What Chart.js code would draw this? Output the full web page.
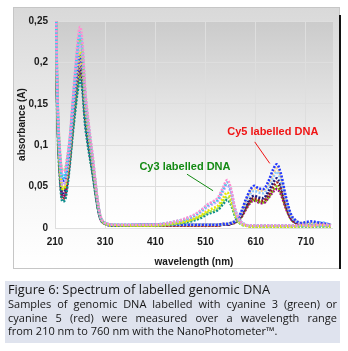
<!DOCTYPE html>
<html>
<head>
<meta charset="utf-8">
<script src="https://cdn.jsdelivr.net/npm/chart.js@4.4.1/dist/chart.umd.min.js"></script>
<style>
  html, body { margin: 0; padding: 0; background: #fff; width: 348px; height: 351px; overflow: hidden; }
  #box { position: absolute; left: 14px; top: 8px; width: 325px; height: 260px;
         background: linear-gradient(#d9d9d9, #f4f4f4 60%, #ffffff); outline: 1px solid #c6c6c6; }
  #shadow { position: absolute; left: 339px; top: 15px; width: 2px; height: 254px; background: #111; }
  #cap { position: absolute; left: 5px; top: 281px; width: 329px; height: 62px; padding: 0 3px;
         background: #dfe3ee; color: #161616; font-family: "Open Sans", sans-serif; }
  #cap .t { font-size: 12.8px; line-height: 15px; margin-top: 1px; }
  #cap .j { font-size: 11px; line-height: 13.5px; text-align: justify; text-align-last: justify; }
  #cap .l { font-size: 11px; line-height: 13.5px; }
</style>
</head>
<body>
<div id="box"><canvas id="chart" width="325" height="260"></canvas></div>
<div id="shadow"></div>
<div id="cap">
  <div class="t">Figure 6: Spectrum of labelled genomic DNA</div>
  <div class="j">Samples of genomic DNA labelled with cyanine 3 (green) or</div>
  <div class="j">cyanine 5 (red) were measured over a wavelength range</div>
  <div class="l">from 210 nm to 760 nm with the NanoPhotometer™.</div>
</div>
<script>
// wavelengths (nm) the spectra were read at
const wavelengths = [210, 215, 220, 225, 230, 235, 240, 245, 250, 255, 260, 265, 270, 275, 280, 285, 290, 295, 300, 310, 330,
  400, 450, 480, 500, 515, 525, 535, 545, 553, 560, 570, 580, 590, 600, 607, 615, 625, 635, 645, 652, 660, 670, 680, 690, 700, 720, 740, 760];

const xTicks = [210, 310, 410, 510, 610, 710];
const yTicks = [0, 0.05, 0.1, 0.15, 0.2, 0.25];

// Cy3 labelled samples
const cy3Pink = [0.34, 0.16, 0.092, 0.068, 0.07, 0.088, 0.113, 0.152, 0.19, 0.224, 0.243, 0.222, 0.17, 0.138, 0.112, 0.088, 0.06, 0.034, 0.016, 0.006, 0.004,
  0.004, 0.008, 0.014, 0.021, 0.029, 0.032, 0.037, 0.049, 0.058, 0.049, 0.021, 0.008, 0.004, 0.003, 0.003, 0.003, 0.003, 0.003, 0.003, 0.003, 0.003, 0.003, 0.003, 0.003, 0.004, 0.003, 0.004, 0.003];
const cy3Cyan = [0.33, 0.155, 0.085, 0.06, 0.063, 0.082, 0.109, 0.147, 0.184, 0.217, 0.236, 0.215, 0.165, 0.134, 0.109, 0.085, 0.058, 0.033, 0.015, 0.006, 0.004,
  0.004, 0.008, 0.013, 0.02, 0.028, 0.031, 0.035, 0.047, 0.055, 0.047, 0.02, 0.008, 0.004, 0.003, 0.003, 0.003, 0.003, 0.003, 0.003, 0.003, 0.003, 0.003, 0.003, 0.003, 0.003, 0.004, 0.003, 0.003];
const cy3Lavender = [0.32, 0.148, 0.078, 0.052, 0.055, 0.074, 0.102, 0.139, 0.174, 0.205, 0.222, 0.203, 0.155, 0.126, 0.102, 0.08, 0.055, 0.031, 0.015, 0.006, 0.004,
  0.004, 0.007, 0.012, 0.019, 0.026, 0.029, 0.033, 0.044, 0.052, 0.044, 0.019, 0.007, 0.004, 0.003, 0.003, 0.003, 0.003, 0.003, 0.003, 0.003, 0.003, 0.003, 0.003, 0.003, 0.003, 0.003, 0.003, 0.004];
const cy3Yellow = [0.31, 0.144, 0.074, 0.047, 0.05, 0.069, 0.098, 0.134, 0.167, 0.197, 0.214, 0.195, 0.15, 0.121, 0.099, 0.077, 0.053, 0.03, 0.014, 0.005, 0.003,
  0.003, 0.006, 0.01, 0.015, 0.021, 0.024, 0.027, 0.036, 0.043, 0.036, 0.016, 0.006, 0.003, 0.002, 0.002, 0.002, 0.002, 0.002, 0.002, 0.002, 0.002, 0.002, 0.002, 0.002, 0.003, 0.002, 0.003, 0.002];
const cy3Lime = [0.33, 0.158, 0.09, 0.07, 0.071, 0.086, 0.108, 0.143, 0.178, 0.21, 0.228, 0.208, 0.16, 0.13, 0.105, 0.083, 0.056, 0.032, 0.015, 0.006, 0.004,
  0.003, 0.005, 0.009, 0.014, 0.019, 0.021, 0.024, 0.032, 0.038, 0.032, 0.014, 0.005, 0.003, 0.002, 0.002, 0.002, 0.002, 0.002, 0.002, 0.002, 0.002, 0.002, 0.002, 0.002, 0.002, 0.003, 0.002, 0.002];
const cy3Teal = [0.28, 0.125, 0.058, 0.032, 0.034, 0.052, 0.08, 0.112, 0.14, 0.165, 0.179, 0.164, 0.125, 0.102, 0.083, 0.065, 0.044, 0.025, 0.012, 0.005, 0.003,
  0.003, 0.005, 0.008, 0.012, 0.017, 0.019, 0.022, 0.029, 0.034, 0.029, 0.013, 0.005, 0.003, 0.002, 0.002, 0.002, 0.002, 0.002, 0.002, 0.002, 0.002, 0.002, 0.002, 0.002, 0.002, 0.002, 0.002, 0.002];

// Cy5 labelled samples
const cy5Blue = [0.31, 0.147, 0.08, 0.057, 0.059, 0.075, 0.098, 0.131, 0.163, 0.192, 0.208, 0.19, 0.146, 0.118, 0.096, 0.075, 0.051, 0.029, 0.014, 0.005, 0.003,
  0.004, 0.004, 0.004, 0.004, 0.004, 0.004, 0.004, 0.005, 0.005, 0.006, 0.009, 0.018, 0.034, 0.047, 0.051, 0.048, 0.047, 0.056, 0.071, 0.077, 0.066, 0.038, 0.017, 0.009, 0.006, 0.008, 0.006, 0.004];
const cy5Peach = [0.3, 0.142, 0.075, 0.05, 0.052, 0.069, 0.093, 0.125, 0.157, 0.184, 0.2, 0.183, 0.14, 0.114, 0.092, 0.072, 0.049, 0.028, 0.013, 0.005, 0.003,
  0.004, 0.004, 0.004, 0.004, 0.004, 0.004, 0.004, 0.005, 0.005, 0.006, 0.009, 0.017, 0.032, 0.045, 0.048, 0.046, 0.045, 0.053, 0.066, 0.072, 0.062, 0.036, 0.016, 0.009, 0.006, 0.006, 0.005, 0.004];
const cy5SkyBlue = [0.33, 0.157, 0.088, 0.064, 0.066, 0.084, 0.109, 0.146, 0.182, 0.214, 0.232, 0.212, 0.162, 0.132, 0.107, 0.084, 0.057, 0.032, 0.015, 0.006, 0.004,
  0.004, 0.004, 0.004, 0.004, 0.004, 0.004, 0.004, 0.004, 0.005, 0.006, 0.009, 0.016, 0.03, 0.042, 0.045, 0.043, 0.042, 0.05, 0.062, 0.068, 0.058, 0.034, 0.015, 0.008, 0.006, 0.005, 0.007, 0.004];
const cy5Navy = [0.3, 0.138, 0.07, 0.042, 0.045, 0.064, 0.09, 0.122, 0.153, 0.18, 0.195, 0.178, 0.137, 0.111, 0.09, 0.07, 0.048, 0.027, 0.013, 0.005, 0.003,
  0.004, 0.004, 0.004, 0.004, 0.004, 0.004, 0.004, 0.004, 0.004, 0.005, 0.008, 0.014, 0.026, 0.036, 0.039, 0.037, 0.036, 0.044, 0.055, 0.06, 0.052, 0.03, 0.013, 0.007, 0.005, 0.005, 0.004, 0.004];
const cy5DarkRed = [0.3, 0.14, 0.066, 0.035, 0.038, 0.058, 0.087, 0.122, 0.155, 0.184, 0.2, 0.182, 0.14, 0.113, 0.092, 0.071, 0.049, 0.028, 0.013, 0.005, 0.003,
  0.003, 0.003, 0.003, 0.003, 0.003, 0.003, 0.003, 0.004, 0.004, 0.005, 0.008, 0.013, 0.024, 0.034, 0.036, 0.034, 0.033, 0.04, 0.05, 0.055, 0.047, 0.027, 0.012, 0.006, 0.005, 0.004, 0.004, 0.003];
const cy5Green = [0.29, 0.136, 0.07, 0.047, 0.049, 0.064, 0.087, 0.117, 0.147, 0.173, 0.187, 0.171, 0.131, 0.106, 0.086, 0.067, 0.046, 0.026, 0.012, 0.005, 0.003,
  0.003, 0.003, 0.003, 0.003, 0.003, 0.003, 0.003, 0.004, 0.004, 0.005, 0.007, 0.012, 0.023, 0.032, 0.034, 0.032, 0.031, 0.037, 0.046, 0.05, 0.043, 0.025, 0.011, 0.006, 0.005, 0.004, 0.004, 0.003];
const cy5Purple = [0.29, 0.135, 0.066, 0.038, 0.04, 0.058, 0.085, 0.118, 0.149, 0.176, 0.19, 0.174, 0.133, 0.108, 0.088, 0.068, 0.047, 0.026, 0.012, 0.005, 0.003,
  0.003, 0.003, 0.003, 0.003, 0.003, 0.003, 0.003, 0.004, 0.004, 0.005, 0.007, 0.012, 0.022, 0.031, 0.033, 0.031, 0.03, 0.036, 0.044, 0.047, 0.041, 0.024, 0.011, 0.006, 0.005, 0.004, 0.004, 0.003];

const seriesNames = ['Cy3 1', 'Cy3 2', 'Cy3 3', 'Cy3 4', 'Cy3 5', 'Cy3 6', 'Cy5 1', 'Cy5 2', 'Cy5 3', 'Cy5 4', 'Cy5 5', 'Cy5 6', 'Cy5 7'];
const seriesValues = [cy3Pink, cy3Cyan, cy3Lavender, cy3Yellow, cy3Lime, cy3Teal, cy5Blue, cy5Peach, cy5SkyBlue, cy5Navy, cy5DarkRed, cy5Green, cy5Purple];
const seriesColors = ['#ff8fd2', '#33cfee', '#c8a2ff', '#e8e800', '#a6e04a', '#0b8c8c', '#2238ff', '#ffd28c', '#8ccaff', '#1c1c84', '#9a1e1e', '#7cc000', '#a0008c'];

// grey gradient behind the plot area plus the two text labels with their pointers
const decor = {
    id: 'decor',
    beforeDraw(chart) {
        const { ctx, chartArea: a } = chart;
        const g = ctx.createLinearGradient(0, a.top, 0, a.bottom);
        g.addColorStop(0, '#cbcbcb');
        g.addColorStop(0.8, '#fbfbfb');
        g.addColorStop(1, '#ffffff');
        ctx.save();
        ctx.fillStyle = g;
        ctx.fillRect(a.left, a.top, a.right - a.left, a.bottom - a.top);
        ctx.restore();
    },
    afterDraw(chart) {
        const { ctx, scales: { x, y } } = chart;
        const label = (text, color, tx, ty, x1, y1, x2, y2) => {
            ctx.save();
            ctx.font = 'bold 11px "Liberation Sans", Arial, sans-serif';
            ctx.fillStyle = color;
            ctx.textAlign = 'center';
            ctx.textBaseline = 'middle';
            ctx.fillText(text, x.getPixelForValue(tx), y.getPixelForValue(ty));
            ctx.strokeStyle = color;
            ctx.lineWidth = 1;
            ctx.beginPath();
            ctx.moveTo(x.getPixelForValue(x1), y.getPixelForValue(y1));
            ctx.lineTo(x.getPixelForValue(x2), y.getPixelForValue(y2));
            ctx.stroke();
            ctx.restore();
        };
        label('Cy3 labelled DNA', '#138a13', 469, 0.0735, 473, 0.065, 525, 0.045);
        label('Cy5 labelled DNA', '#f01414', 644, 0.116, 608, 0.104, 638, 0.078);
    }
};

const ctx = document.getElementById('chart').getContext('2d');
new Chart(ctx, {
    type: 'line',
    data: {
        labels: wavelengths,
        datasets: seriesValues.map((vals, i) => ({
            label: seriesNames[i],
            data: vals.map((v, k) => ({ x: wavelengths[k], y: v })),
            borderColor: seriesColors[i],
            borderWidth: 2.6,
            borderDash: [2, 1.5],
            pointRadius: 0,
            cubicInterpolationMode: 'monotone'
        }))
    },
    options: {
        responsive: false,
        animation: false,
        layout: { padding: { left: 0, top: 8, right: 6, bottom: 0 } },
        plugins: { legend: { display: false }, tooltip: { enabled: false } },
        scales: {
            x: {
                type: 'linear', min: 210, max: 764,
                afterBuildTicks: axis => { axis.ticks = xTicks.map(v => ({ value: v })); },
                afterFit: axis => { axis.height = 40; },
                grid: { color: '#dedede', drawTicks: false },
                border: { display: false },
                ticks: { padding: 8, color: '#1a1a1a', font: { family: '"Liberation Sans", Arial', size: 10, weight: 'bold' } },
                title: { display: true, text: 'wavelength (nm)', color: '#1a1a1a', padding: 0,
                         font: { family: '"Liberation Sans", Arial', size: 10, weight: 'bold' } }
            },
            y: {
                min: 0, max: 0.25,
                afterBuildTicks: axis => { axis.ticks = yTicks.map(v => ({ value: v })); },
                afterFit: axis => { axis.width = 41; },
                grid: { color: '#dedede', drawTicks: false },
                border: { display: false },
                ticks: { padding: 7, color: '#1a1a1a', font: { family: '"Liberation Sans", Arial', size: 10, weight: 'bold' },
                         callback: v => String(+v.toFixed(2)).replace('.', ',') },
                title: { display: true, text: 'absorbance (A)', color: '#1a1a1a', padding: { top: 2, bottom: 0 },
                         font: { family: '"Liberation Sans", Arial', size: 10, weight: 'bold' } }
            }
        }
    },
    plugins: [decor]
});
</script>
</body>
</html>
